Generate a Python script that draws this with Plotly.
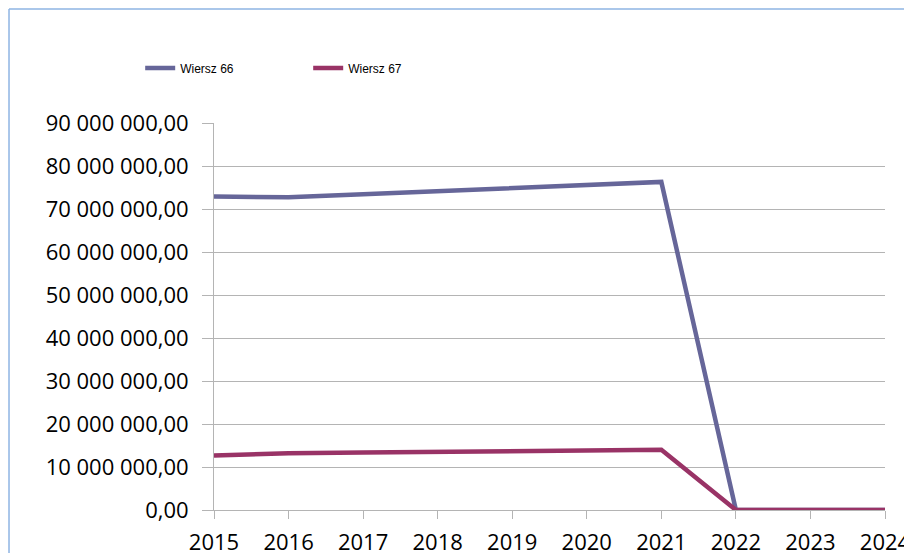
import plotly.graph_objects as go

years = [2015, 2016, 2017, 2018, 2019, 2020, 2021, 2022, 2023, 2024]
wiersz66 = [72900000, 72750000, 73450000, 74150000, 74850000, 75550000, 76300000, 0, 0, 0]
wiersz67 = [12700000, 13200000, 13350000, 13500000, 13650000, 13800000, 14000000, 0, 0, 0]
series_names = ["Wiersz 66", "Wiersz 67"]
colors = ["#666699", "#993366"]

fig = go.Figure()
for name, vals, c in zip(series_names, [wiersz66, wiersz67], colors):
    fig.add_trace(go.Scatter(x=years, y=vals, mode="lines", name=name,
                             line=dict(color=c, width=4.5)))

grid = "#b4b4b4"
# page body has an 8px margin, so the figure is 904x545 placed at (8, 8)
fig.update_layout(
    width=904, height=545,
    margin=dict(l=206, r=27, t=115, b=43, autoexpand=False),
    paper_bgcolor="white", plot_bgcolor="white",
    separators=", ",
    font=dict(family="Open Sans, Liberation Sans, sans-serif", color="#000000"),
    showlegend=True,
    legend=dict(orientation="h", x=-0.11, y=1.142, xanchor="left", yanchor="middle",
                font=dict(size=12, family="Liberation Sans, Arial, sans-serif"),
                entrywidth=123, itemwidth=30, bgcolor="rgba(0,0,0,0)"),
    xaxis=dict(range=[2015, 2024], tickvals=years, ticktext=[str(y) for y in years],
               showgrid=False, showline=True, linecolor=grid, linewidth=1,
               ticks="outside", ticklen=8, tickcolor=grid, automargin=False,
               tickfont=dict(size=22), zeroline=False, ticklabelstandoff=5),
    yaxis=dict(range=[0, 90000000], dtick=10000000, tickformat=",.2f",
               showgrid=True, gridcolor=grid, gridwidth=1,
               showline=True, linecolor=grid, linewidth=1, automargin=False,
               ticks="outside", ticklen=11, tickcolor=grid,
               tickfont=dict(size=22), zeroline=False, ticklabelstandoff=9),
    shapes=[
        dict(type="line", xref="paper", yref="paper", x0=-0.3055, x1=1.1, y0=1.2945, y1=1.2945,
             line=dict(color="#8eb4e3", width=1.5)),
        dict(type="line", xref="paper", yref="paper", x0=-0.3055, x1=-0.3055, y0=-0.2, y1=1.2945,
             line=dict(color="#8eb4e3", width=1.5)),
    ],
)

fig.write_html("out.html")
